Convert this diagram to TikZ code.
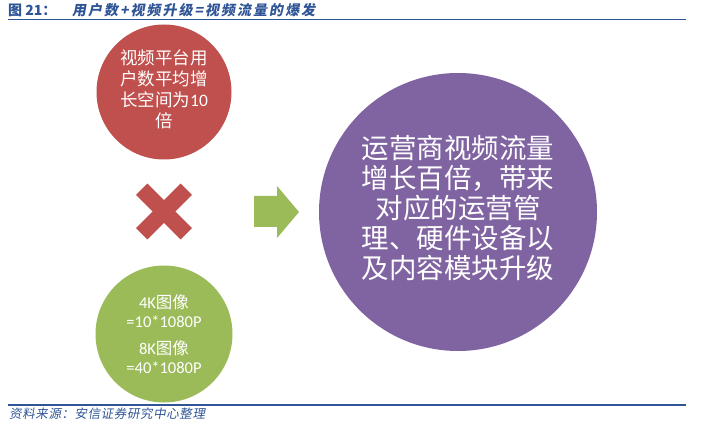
\documentclass[tikz,border=0pt]{standalone}
\usepackage{fontspec}
\setmainfont{Carlito}
\newfontfamily\cjk{Noto Sans CJK SC}
\newfontfamily\cjkslant[FakeSlant=0.18]{Noto Sans CJK SC}
\definecolor{ttlblue}{HTML}{2F5597}
\definecolor{rred}{HTML}{C0504D}
\definecolor{ggreen}{HTML}{9BBB59}
\definecolor{ppurple}{HTML}{8064A2}
\tikzset{
  bubble/.style={circle, inner sep=0pt},
  bubbletext/.style={inner sep=0pt, text=white, align=center},
  rulestyle/.style={draw=ttlblue, line width=1.4pt},
  crossarm/.style={rectangle, fill=rred, inner sep=0pt, minimum width=63pt, minimum height=16pt}
}
\begin{document}
\begin{tikzpicture}[x=1pt,y=-1pt]
\useasboundingbox (0,0) rectangle (705,433);
% title
\node[anchor=base west, inner sep=0pt, text=ttlblue] (title) at (8,15.5)
  {\cjk\bfseries\fontsize{14pt}{16pt}\selectfont 图 21：};
\node[anchor=base west, inner sep=0pt, text=ttlblue] (title2) at (72,15.5)
  {\cjkslant\bfseries\fontsize{14pt}{16pt}\selectfont 用\kern2pt 户\kern2pt 数\kern2pt +\kern2pt 视\kern2pt 频\kern2pt 升\kern2pt 级\kern2pt =\kern2pt 视\kern2pt 频\kern2pt 流\kern2pt 量\kern2pt 的\kern2pt 爆\kern2pt 发};
\coordinate (tl) at (8,19.5);
\coordinate (tr) at (686,19.5);
\draw[rulestyle] (tl) -- (tr);
% bottom rule and source
\coordinate (bl) at (8,405);
\coordinate (br) at (686,405);
\draw[rulestyle] (bl) -- (br);
\node[anchor=base west, inner sep=0pt, text=ttlblue] (src) at (9,418.5)
  {\cjkslant\fontsize{12.5pt}{14pt}\selectfont 资\kern.6pt 料\kern.6pt 来\kern.6pt 源\kern.6pt ：\kern.6pt 安\kern.6pt 信\kern.6pt 证\kern.6pt 券\kern.6pt 研\kern.6pt 究\kern.6pt 中\kern.6pt 心\kern.6pt 整\kern.6pt 理};
% red circle
\node[bubble, fill=rred, minimum size=135pt] (users) at (164,92) {};
\node[bubbletext, font={\cjk\fontsize{17.5pt}{21pt}\selectfont}] (userstext) at (164,89.5)
  {视频平台用\\户数平均增\\长空间为{\fontspec{Carlito}10}\\倍};
% green circle
\node[bubble, fill=ggreen, minimum size=137pt] (video) at (164,334) {};
\node[bubbletext, font={\fontsize{16.5pt}{19pt}\selectfont}] (videotext) at (164,334)
  {4K{\cjk 图像}\\=10*1080P\\[8pt]8K{\cjk 图像}\\=40*1080P};
% purple circle
\node[bubble, fill=ppurple, minimum size=278pt] (traffic) at (458,212) {};
\node[bubbletext, font={\cjk\fontsize{27.5pt}{30pt}\selectfont}] (traffictext) at (458,208)
  {运营商视频流量\\增长百倍，带来\\对应的运营管\\理、硬件设备以\\及内容模块升级};
% cross
\node[crossarm, rotate=45] (crossa) at (164,211.5) {};
\node[crossarm, rotate=-45] (crossb) at (164,211.5) {};
% block arrow
\fill[ggreen] (254,196) -- (277,196) -- (277,186) -- (299,212) -- (277,238) -- (277,227) -- (254,227) -- cycle;
\end{tikzpicture}
\end{document}
